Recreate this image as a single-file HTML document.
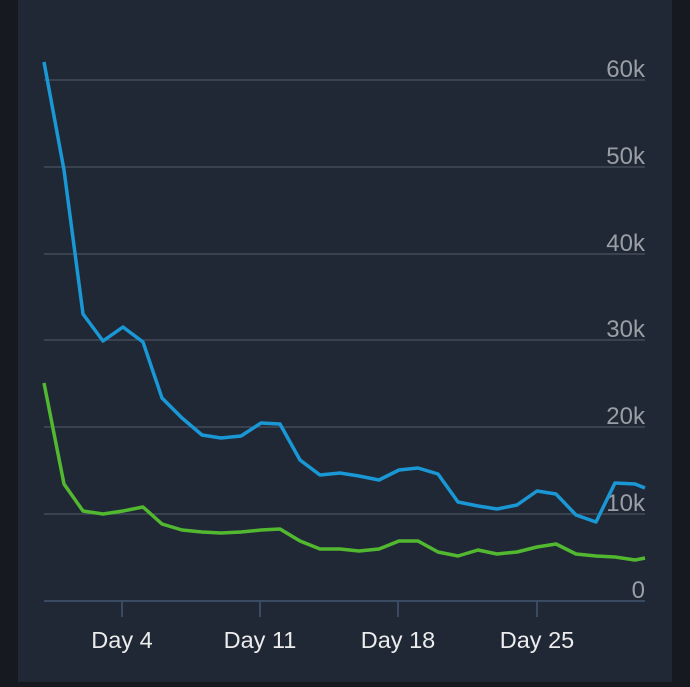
<!DOCTYPE html><html><head><style>body{margin:0;width:690px;height:682px;overflow:hidden;background:#16191f}</style></head><body>
<svg width="690" height="682" xmlns="http://www.w3.org/2000/svg" font-family="Liberation Sans, sans-serif">
<rect x="18" y="0" width="654" height="682" fill="#202835"/>
<g stroke="#4a5260" stroke-width="1.2">
<line x1="44" x2="645" y1="80" y2="80"/><line x1="44" x2="645" y1="167" y2="167"/><line x1="44" x2="645" y1="254" y2="254"/><line x1="44" x2="645" y1="340" y2="340"/><line x1="44" x2="645" y1="427" y2="427"/><line x1="44" x2="645" y1="514" y2="514"/>
</g>
<g stroke="#3a4a62" stroke-width="2"><line x1="44" x2="645" y1="601" y2="601"/>
<line x1="122" x2="122" y1="601" y2="617"/><line x1="260" x2="260" y1="601" y2="617"/><line x1="398" x2="398" y1="601" y2="617"/><line x1="537" x2="537" y1="601" y2="617"/></g>
<g fill="#9a9ea5" font-size="24" text-anchor="end">
<text x="645" y="77">60k</text><text x="645" y="164">50k</text><text x="645" y="251">40k</text><text x="645" y="337">30k</text><text x="645" y="424">20k</text><text x="645" y="511">10k</text><text x="645" y="598">0</text></g>
<g fill="#ececec" font-size="23.5" text-anchor="middle">
<text x="122" y="648">Day 4</text><text x="260" y="648">Day 11</text><text x="398" y="648">Day 18</text><text x="537" y="648">Day 25</text></g>
<polyline fill="none" stroke="#1a97d5" stroke-width="3.5" stroke-linejoin="round" points="44,62 64,170 83,314 103,341 123,327 143,342 162,398 182,418 202,435 221,438 241,436 261,423 280,424 300,460 320,475 340,473 359,476 379,480 399,470 418,468 438,474 458,502 478,506 497,509 517,505 537,491 556,494 576,515 596,522 615,483 635,484 645,488"/>
<polyline fill="none" stroke="#52b830" stroke-width="3.5" stroke-linejoin="round" points="44,383 64,484 83,511 103,514 123,511 143,507 162,524 182,530 202,532 221,533 241,532 261,530 280,529 300,541 320,549 340,549 359,551 379,549 399,541 418,541 438,552 458,556 478,550 497,554 517,552 537,547 556,544 576,554 596,556 615,557 635,560 645,558"/>
</svg></body></html>
